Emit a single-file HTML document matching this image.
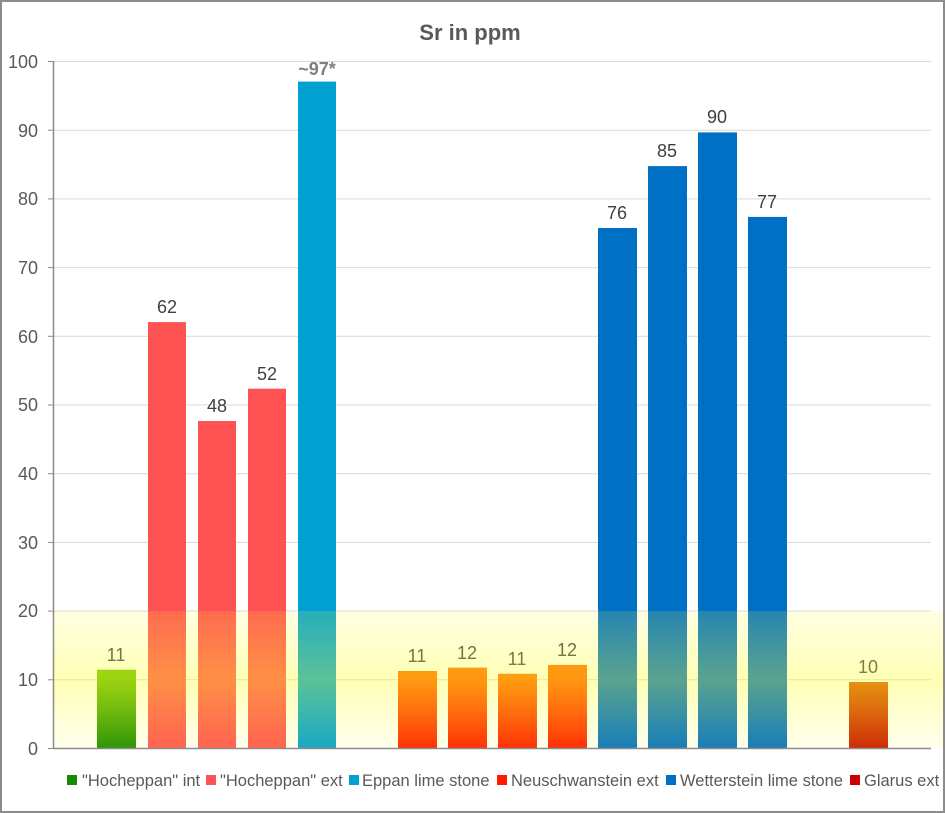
<!DOCTYPE html>
<html><head><meta charset="utf-8"><style>
html,body{margin:0;padding:0;background:#fff}
svg{display:block;font-family:"Liberation Sans",Arial,sans-serif}
</style></head><body>
<svg width="945" height="813" viewBox="0 0 945 813" xmlns="http://www.w3.org/2000/svg">
<defs>
<linearGradient id="gr" x1="0" y1="0" x2="0" y2="1"><stop offset="0" stop-color="#6fc000"/><stop offset="1" stop-color="#178a00"/></linearGradient>
<linearGradient id="nr" x1="0" y1="0" x2="0" y2="1"><stop offset="0" stop-color="#ff6a00"/><stop offset="1" stop-color="#ff1a00"/></linearGradient>
<linearGradient id="gl" x1="0" y1="0" x2="0" y2="1"><stop offset="0" stop-color="#d85800"/><stop offset="1" stop-color="#c81400"/></linearGradient>
<linearGradient id="yb" x1="0" y1="0" x2="0" y2="1">
<stop offset="0" stop-color="#ffff40" stop-opacity="0.15"/>
<stop offset="0.5" stop-color="#ffff30" stop-opacity="0.36"/>
<stop offset="1" stop-color="#ffff40" stop-opacity="0.1"/></linearGradient>
</defs>
<rect x="1" y="1" width="943" height="811" fill="#fff" stroke="#8c8c8c" stroke-width="2"/>
<text x="470" y="40" text-anchor="middle" font-size="22" font-weight="bold" fill="#595959">Sr in ppm</text>
<g stroke="#d9d9d9" stroke-width="1">
<line x1="53" x2="931" y1="61.5" y2="61.5"/><line x1="53" x2="931" y1="130.2" y2="130.2"/>
<line x1="53" x2="931" y1="198.9" y2="198.9"/><line x1="53" x2="931" y1="267.6" y2="267.6"/>
<line x1="53" x2="931" y1="336.3" y2="336.3"/><line x1="53" x2="931" y1="405" y2="405"/>
<line x1="53" x2="931" y1="473.7" y2="473.7"/><line x1="53" x2="931" y1="542.4" y2="542.4"/>
<line x1="53" x2="931" y1="611.1" y2="611.1"/><line x1="53" x2="931" y1="679.8" y2="679.8"/>
</g>
<g font-size="18" fill="#595959" text-anchor="end">
<text x="38" y="68">100</text><text x="38" y="137">90</text><text x="38" y="205">80</text>
<text x="38" y="274">70</text><text x="38" y="343">60</text><text x="38" y="411">50</text>
<text x="38" y="480">40</text><text x="38" y="549">30</text><text x="38" y="617">20</text>
<text x="38" y="686">10</text><text x="38" y="755">0</text>
</g>
<rect x="97" y="669.7" width="39" height="78.3" fill="url(#gr)"/>
<rect x="148" y="322.1" width="38" height="425.9" fill="#ff5252"/>
<rect x="198" y="421" width="38" height="327" fill="#ff5252"/>
<rect x="248" y="388.7" width="38" height="359.3" fill="#ff5252"/>
<rect x="298" y="81.6" width="38" height="666.4" fill="#00a0d0"/>
<rect x="398" y="671" width="39" height="77" fill="url(#nr)"/>
<rect x="448" y="667.6" width="39" height="80.4" fill="url(#nr)"/>
<rect x="498" y="673.8" width="39" height="74.2" fill="url(#nr)"/>
<rect x="548" y="664.9" width="39" height="83.1" fill="url(#nr)"/>
<rect x="598" y="228" width="39" height="520" fill="#0070c4"/>
<rect x="648" y="166.1" width="39" height="581.9" fill="#0070c4"/>
<rect x="698" y="132.4" width="39" height="615.6" fill="#0070c4"/>
<rect x="748" y="216.9" width="39" height="531.1" fill="#0070c4"/>
<rect x="849" y="682" width="39" height="66" fill="url(#gl)"/>
<g font-size="18" fill="#404040" text-anchor="middle">
<text x="116" y="661">11</text><text x="167" y="313">62</text><text x="217" y="412">48</text>
<text x="267" y="380">52</text><text x="317" y="75" font-weight="bold" fill="#7f7f7f">~97*</text>
<text x="417" y="662">11</text><text x="467" y="659">12</text><text x="517" y="665">11</text>
<text x="567" y="656">12</text><text x="617" y="219">76</text><text x="667" y="157">85</text>
<text x="717" y="123">90</text><text x="767" y="208">77</text><text x="868" y="673">10</text>
</g>
<rect x="53" y="611" width="890" height="137" fill="url(#yb)"/>
<line x1="53" x2="931" y1="748.5" y2="748.5" stroke="#8c8c8c" stroke-width="1.5"/>
<line x1="53.5" x2="53.5" y1="61" y2="748" stroke="#8c8c8c" stroke-width="1.5"/>
<g stroke="#8c8c8c" stroke-width="1">
<line x1="48" x2="53" y1="61.5" y2="61.5"/><line x1="48" x2="53" y1="130.2" y2="130.2"/>
<line x1="48" x2="53" y1="198.9" y2="198.9"/><line x1="48" x2="53" y1="267.6" y2="267.6"/>
<line x1="48" x2="53" y1="336.3" y2="336.3"/><line x1="48" x2="53" y1="405" y2="405"/>
<line x1="48" x2="53" y1="473.7" y2="473.7"/><line x1="48" x2="53" y1="542.4" y2="542.4"/>
<line x1="48" x2="53" y1="611.1" y2="611.1"/><line x1="48" x2="53" y1="679.8" y2="679.8"/>
<line x1="48" x2="53" y1="748.5" y2="748.5"/>
</g>
<g font-size="16.5" fill="#595959">
<rect x="67" y="775" width="10" height="10" fill="#178a00"/><text x="82" y="786">"Hocheppan" int</text>
<rect x="206" y="775" width="10" height="10" fill="#ff5252"/><text x="220" y="786">"Hocheppan" ext</text>
<rect x="349" y="775" width="10" height="10" fill="#00a0d0"/><text x="362" y="786">Eppan lime stone</text>
<rect x="497" y="775" width="10" height="10" fill="#ff1a00"/><text x="511" y="786">Neuschwanstein ext</text>
<rect x="666" y="775" width="10" height="10" fill="#0070c4"/><text x="680" y="786">Wetterstein lime stone</text>
<rect x="850" y="775" width="10" height="10" fill="#cc0000"/><text x="864" y="786">Glarus ext</text>
</g>
</svg>
</body></html>
